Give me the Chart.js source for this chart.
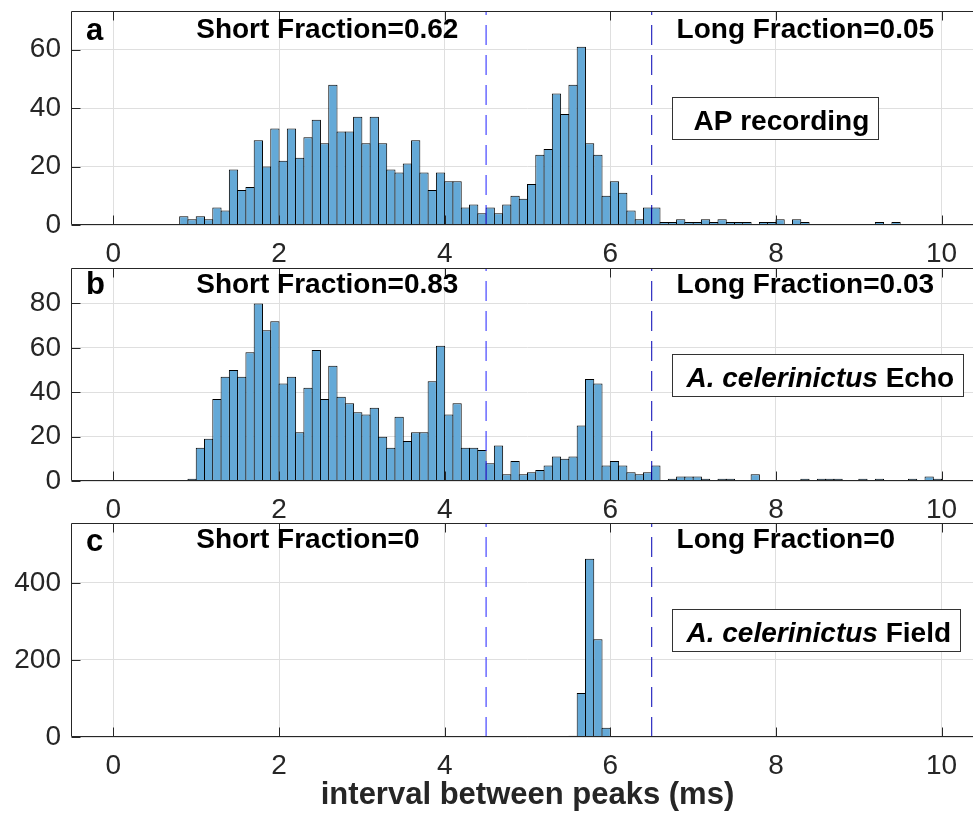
<!DOCTYPE html>
<html>
<head>
<meta charset="utf-8">
<script src="https://cdn.jsdelivr.net/npm/chart.js@4.4.0/dist/chart.umd.min.js"></script>
<style>
  html, body { margin: 0; padding: 0; background: #fff; overflow: hidden; }
  #wrap { position: relative; width: 973px; height: 822px; overflow: hidden; }
  canvas { position: absolute; left: 0; }
</style>
</head>
<body>
<div id="wrap">
  <canvas id="chartA" width="983" height="262" style="top:0px"></canvas>
  <canvas id="chartB" width="983" height="256" style="top:262px"></canvas>
  <canvas id="chartC" width="983" height="304" style="top:518px"></canvas>
</div>
<script>
// histogram counts, 100 bins of 0.1 ms from 0 to 10 ms
const countsA = [
  0, 0, 0, 0, 0, 0, 0, 0, 3, 2,
  3, 2, 6, 5, 19, 12, 13, 29, 20, 33,
  22, 33, 23, 30, 36, 28, 48, 32, 32, 37,
  28, 37, 28, 19, 18, 21, 29, 18, 12, 18,
  15, 15, 6, 7, 4, 6, 4, 7, 10, 9,
  14, 24, 26, 45, 38, 48, 61, 28, 24, 10,
  15, 11, 5, 2, 6, 6, 1, 1, 2, 1,
  1, 2, 1, 2, 1, 1, 1, 0, 1, 1,
  2, 0, 2, 1, 0, 0, 0, 0, 0, 0,
  0, 0, 1, 0, 1, 0, 0, 0, 0, 0
];
const countsB = [
  0, 0, 0, 0, 0, 0, 0, 0, 0, 1,
  15, 19, 37, 47, 50, 47, 58, 80, 68, 72,
  44, 47, 22, 42, 59, 37, 52, 38, 35, 31,
  30, 33, 20, 15, 29, 18, 22, 22, 45, 61,
  30, 35, 15, 15, 14, 8, 16, 3, 9, 3,
  4, 5, 7, 11, 10, 11, 25, 46, 44, 7,
  9, 7, 4, 3, 4, 7, 0, 1, 2, 2,
  2, 1, 0, 1, 1, 0, 0, 3, 0, 0,
  0, 0, 0, 1, 0, 1, 1, 1, 0, 0,
  1, 0, 1, 0, 0, 0, 1, 0, 2, 1
];
const countsC = [
  0, 0, 0, 0, 0, 0, 0, 0, 0, 0,
  0, 0, 0, 0, 0, 0, 0, 0, 0, 0,
  0, 0, 0, 0, 0, 0, 0, 0, 0, 0,
  0, 0, 0, 0, 0, 0, 0, 0, 0, 0,
  0, 0, 0, 0, 0, 0, 0, 0, 0, 0,
  0, 0, 0, 0, 0, 3, 114, 463, 254, 24,
  1, 0, 0, 0, 0, 0, 0, 0, 0, 0,
  0, 0, 0, 0, 0, 0, 0, 0, 0, 0,
  0, 0, 0, 0, 0, 0, 0, 0, 0, 0,
  0, 0, 0, 0, 0, 0, 0, 0, 0, 0
];
const binWidth = 0.1;
const binCenters = countsA.map((_, i) => +((i + 0.5) * binWidth).toFixed(2));

const xTicks = [0, 2, 4, 6, 8, 10];
const yTicksA = [0, 20, 40, 60];
const yTicksB = [0, 20, 40, 60, 80];
const yTicksC = [0, 200, 400];

const thresholds = [4.5, 6.5]; // short / long limits (ms)
const panelLetters = ['a', 'b', 'c'];
const shortFractions = ['0.62', '0.83', '0'];
const longFractions = ['0.05', '0.03', '0'];
const boxLabels = [
  [{ text: 'AP recording', italic: false }],
  [{ text: 'A. celerinictus', italic: true }, { text: ' Echo', italic: false }],
  [{ text: 'A. celerinictus', italic: true }, { text: ' Field', italic: false }]
];

const FONT = '"Liberation Sans", Arial, Helvetica, sans-serif';
const AXIS_COLOR = '#262626';
const GRID_COLOR = '#dfdfdf';

// box + inward ticks + annotations, MATLAB style
const matlabFrame = {
  id: 'matlabFrame',
  afterDatasetsDraw(chart, args, opts) {
    const ctx = chart.ctx;
    const a = chart.chartArea;
    const sx = chart.scales.x, sy = chart.scales.y;
    const L = Math.round(a.left) - 0.5, R = Math.round(a.right) - 0.5;
    const T = Math.round(a.top) + 0.5, B = Math.round(a.bottom) - 0.5;
    ctx.save();
    ctx.strokeStyle = AXIS_COLOR;
    ctx.lineWidth = 1;
    ctx.beginPath();
    ctx.moveTo(L, T); ctx.lineTo(R, T); ctx.lineTo(R, B); ctx.lineTo(L, B); ctx.closePath();
    const tl = 9;
    xTicks.forEach(v => {
      const px = Math.round(sx.getPixelForValue(v)) + 0.5;
      ctx.moveTo(px, B); ctx.lineTo(px, B - tl);
      ctx.moveTo(px, T); ctx.lineTo(px, T + tl);
    });
    opts.yTicks.forEach(v => {
      const py = Math.round(sy.getPixelForValue(v)) + 0.5;
      ctx.moveTo(L, py); ctx.lineTo(L + tl, py);
      ctx.moveTo(R, py); ctx.lineTo(R - tl, py);
    });
    ctx.stroke();

    const i = opts.index;
    ctx.fillStyle = '#000';
    ctx.textAlign = 'left';
    ctx.textBaseline = 'alphabetic';
    ctx.font = 'bold 31px ' + FONT;
    ctx.fillText(panelLetters[i], sx.getPixelForValue(-0.33), a.top + opts.letterY);
    ctx.font = 'bold 28px ' + FONT;
    ctx.fillText('Short Fraction=' + shortFractions[i], sx.getPixelForValue(1.0), a.top + opts.fracY);
    ctx.fillText('Long Fraction=' + longFractions[i], sx.getPixelForValue(6.8), a.top + opts.fracY);

    // label box
    const parts = boxLabels[i];
    let w = 0;
    parts.forEach(p => {
      ctx.font = (p.italic ? 'italic ' : '') + 'bold 28px ' + FONT;
      w += ctx.measureText(p.text).width;
    });
    const bx = Math.round(sx.getPixelForValue(6.75)) + 0.5;
    const by = Math.round(a.top + 85.5) + 0.5;
    const bw = Math.round(opts.boxPad + w + 9);
    const bh = 42;
    ctx.fillStyle = '#fff';
    ctx.fillRect(bx, by, bw, bh);
    ctx.strokeStyle = '#333';
    ctx.strokeRect(bx, by, bw, bh);
    ctx.fillStyle = '#000';
    let tx = bx + opts.boxPad;
    parts.forEach(p => {
      ctx.font = (p.italic ? 'italic ' : '') + 'bold 28px ' + FONT;
      ctx.fillText(p.text, tx, by + 32);
      tx += ctx.measureText(p.text).width;
    });
    ctx.restore();
  }
};

function makePanel(canvasId, counts, yTicks, index, xAxisHeight, topPad, showXLabel, textPos) {
  const yMax = 1.2 * Math.max(...counts);
  const ctx = document.getElementById(canvasId).getContext('2d');
  return new Chart(ctx, {
    type: 'bar',
    data: {
      datasets: [
        {
          type: 'line',
          data: [{ x: thresholds[0], y: 0 }, { x: thresholds[0], y: yMax }],
          borderColor: '#2020ff',
          borderWidth: 1,
          borderDash: [20, 10],
          pointRadius: 0,
          fill: false,
          order: 0
        },
        {
          type: 'line',
          data: [{ x: thresholds[1], y: 0 }, { x: thresholds[1], y: yMax }],
          borderColor: '#0000b4',
          borderWidth: 1,
          borderDash: [20, 10],
          pointRadius: 0,
          fill: false,
          order: 0
        },
        {
          data: binCenters.map((x, i) => ({ x: x, y: counts[i] })),
          backgroundColor: 'rgb(100, 169, 215)',
          borderColor: '#000',
          borderWidth: 1,
          barPercentage: 1.12, // bars overlap by one pixel so edges are shared
          categoryPercentage: 1,
          order: 1
        }
      ]
    },
    options: {
      responsive: false,
      animation: false,
      events: [],
      layout: { padding: { top: topPad, left: 0, right: 0, bottom: 0 } },
      plugins: {
        legend: { display: false },
        tooltip: { enabled: false },
        matlabFrame: Object.assign({ index: index, yTicks: yTicks }, textPos)
      },
      scales: {
        x: {
          type: 'linear',
          min: -0.5,
          max: 10.5,
          offset: false,
          afterBuildTicks: s => { s.ticks = xTicks.map(v => ({ value: v })); },
          afterFit: s => { s.height = xAxisHeight; s.paddingLeft = 0; s.paddingRight = 0; },
          grid: { color: GRID_COLOR, drawTicks: false, offset: false },
          border: { display: false },
          ticks: {
            color: AXIS_COLOR,
            font: { family: FONT, size: 28 },
            padding: 12,
            maxRotation: 0,
            autoSkip: false
          },
          title: {
            display: showXLabel,
            text: 'interval between peaks (ms)',
            color: AXIS_COLOR,
            font: { family: FONT, size: 31, weight: 'bold' },
            padding: { top: 0, bottom: 8 }
          }
        },
        y: {
          type: 'linear',
          min: 0,
          max: yMax,
          afterBuildTicks: s => { s.ticks = yTicks.map(v => ({ value: v })); },
          afterFit: s => { s.width = 72; s.paddingTop = 0; s.paddingBottom = 0; },
          grid: { color: GRID_COLOR, drawTicks: false },
          border: { display: false },
          ticks: {
            color: AXIS_COLOR,
            font: { family: FONT, size: 28 },
            padding: 11
          }
        }
      }
    },
    plugins: [matlabFrame]
  });
}

makePanel('chartA', countsA, yTicksA, 0, 37, 11, false, { letterY: 29, fracY: 27, boxPad: 21 });
makePanel('chartB', countsB, yTicksB, 1, 37, 6, false, { letterY: 26, fracY: 25, boxPad: 14 });
makePanel('chartC', countsC, yTicksC, 2, 85, 5, true, { letterY: 28, fracY: 25, boxPad: 14 });
</script>
</body>
</html>
